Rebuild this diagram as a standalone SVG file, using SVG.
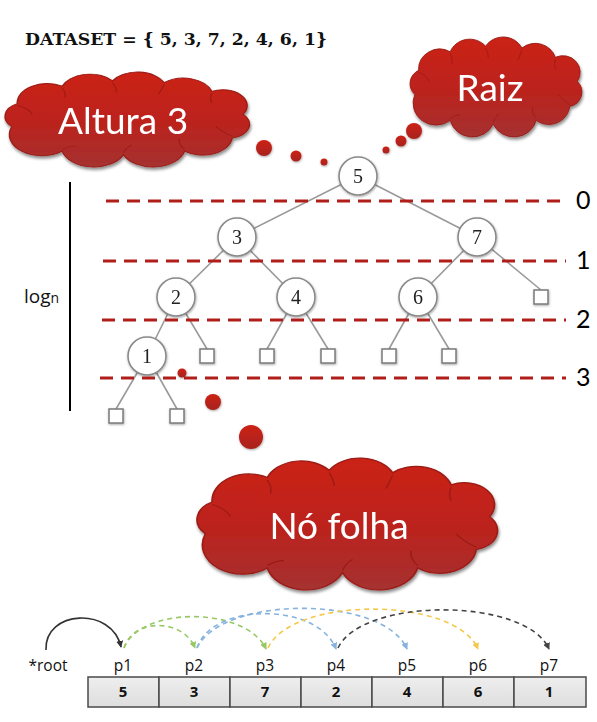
<svg xmlns="http://www.w3.org/2000/svg" xmlns:xlink="http://www.w3.org/1999/xlink" width="597" height="722" viewBox="0 0 597 722">
<style>
.cloud{fill:url(#redGrad);stroke:#9a1c16;stroke-width:1}
.cin{fill:none;stroke:#8e1812;stroke-width:0.9;opacity:0.7}
.ctext{font-family:Lato,"Open Sans",sans-serif;font-size:37px;fill:#ffffff}
.bub{fill:url(#redGrad2)}
.edge{stroke:#9a9a9a;stroke-width:1.6;fill:none}
.node circle{fill:#ffffff;stroke:#8a8a8a;stroke-width:1.6}
.node text{font-family:"Liberation Serif",serif;font-size:20px;fill:#222;text-anchor:middle}
.leaf{fill:#ffffff;stroke:#7a7a7a;stroke-width:1.5}
.lvl{stroke:#b01e1a;stroke-width:3;stroke-dasharray:13 8;fill:none}
.lvlt{font-family:Lato,"Open Sans",sans-serif;font-size:25px;fill:#000}
.lbl{font-family:"Open Sans","Liberation Sans",sans-serif;font-size:15.5px;fill:#111;text-anchor:middle}
.cell{fill:url(#cellGrad);stroke:#4a4a4a;stroke-width:1.5}
.cellt{font-family:"Open Sans","Liberation Sans",sans-serif;font-size:15px;font-weight:bold;fill:#111;text-anchor:middle}
.arc{fill:none;stroke-width:1.6;stroke-dasharray:5 4}
</style>
<defs>
<linearGradient id="redGrad" x1="0" y1="0" x2="0" y2="1">
<stop offset="0" stop-color="#cb2118"/>
<stop offset="0.5" stop-color="#bd221b"/>
<stop offset="1" stop-color="#a53131"/>
</linearGradient>
<linearGradient id="redGrad2" x1="0" y1="0" x2="0" y2="1">
<stop offset="0" stop-color="#cc2016"/>
<stop offset="1" stop-color="#a8241f"/>
</linearGradient>
<linearGradient id="cellGrad" x1="0" y1="0" x2="0" y2="1">
<stop offset="0" stop-color="#eeeeee"/>
<stop offset="1" stop-color="#dedede"/>
</linearGradient>
<filter id="shadow" x="-20%" y="-20%" width="140%" height="150%">
<feDropShadow dx="1" dy="2.5" stdDeviation="1.8" flood-color="#000" flood-opacity="0.45"/>
</filter>
<filter id="glow" x="-30%" y="-30%" width="160%" height="160%">
<feDropShadow dx="0.5" dy="1" stdDeviation="1.2" flood-color="#000" flood-opacity="0.35"/>
</filter>
<path id="cloud" d="M18,62 A16,16 0 0 1 22,36 A22,22 0 0 1 55,16 A22,22 0 0 1 92,10 A22,22 0 0 1 130,12 A22,22 0 0 1 165,22 A18,18 0 0 1 188,48 A16,16 0 0 1 180,75 A22,22 0 0 1 145,90 A24,24 0 0 1 100,94 A24,24 0 0 1 55,90 A24,24 0 0 1 18,62 Z"/>
<g id="cloudInner">
<path d="M22,38 Q30,41 33,48"/>
<path d="M55,18 Q58,24 57,29"/>
<path d="M92,12 Q95,18 95,23"/>
<path d="M130,14 Q128,20 126,25"/>
<path d="M165,24 Q163,30 165,35"/>
<path d="M180,73 Q172,68 168,62"/>
<path d="M145,88 Q140,82 141,76"/>
<path d="M100,92 Q102,86 106,83"/>
<path d="M55,88 Q60,84 65,84"/>
</g>
<marker id="mBlack" viewBox="0 0 8 8" refX="7" refY="4" markerWidth="7" markerHeight="7" markerUnits="userSpaceOnUse" orient="auto"><path d="M0,0 L8,4 L0,8 Z" fill="#333"/></marker>
<marker id="mGreen" viewBox="0 0 8 8" refX="7" refY="4" markerWidth="7" markerHeight="7" markerUnits="userSpaceOnUse" orient="auto"><path d="M0,0 L8,4 L0,8 Z" fill="#98c865"/></marker>
<marker id="mBlue" viewBox="0 0 8 8" refX="7" refY="4" markerWidth="7" markerHeight="7" markerUnits="userSpaceOnUse" orient="auto"><path d="M0,0 L8,4 L0,8 Z" fill="#86b2de"/></marker>
<marker id="mYellow" viewBox="0 0 8 8" refX="7" refY="4" markerWidth="7" markerHeight="7" markerUnits="userSpaceOnUse" orient="auto"><path d="M0,0 L8,4 L0,8 Z" fill="#f4c84a"/></marker>
<marker id="mDark" viewBox="0 0 8 8" refX="7" refY="4" markerWidth="7" markerHeight="7" markerUnits="userSpaceOnUse" orient="auto"><path d="M0,0 L8,4 L0,8 Z" fill="#444"/></marker>
</defs>

<rect width="597" height="722" fill="#ffffff"/>

<g id="title">
<text x="25" y="45" font-family="'DejaVu Serif','Liberation Serif',serif" font-size="16" font-weight="bold" fill="#111" textLength="302" lengthAdjust="spacingAndGlyphs">DATASET = { 5, 3, 7, 2, 4, 6, 1}</text>
</g>

<g id="cloud-altura" filter="url(#shadow)">
<use href="#cloud" class="cloud" transform="translate(-12.7,72) scale(1.361,0.88)"/>
<use href="#cloudInner" class="cin" transform="translate(-12.7,72) scale(1.361,0.88)"/>
<text class="ctext" x="58" y="134">Altura 3</text>
</g>

<g id="cloud-raiz" filter="url(#shadow)">
<use href="#cloud" class="cloud" transform="translate(397.6,37) scale(0.956,0.926)"/>
<use href="#cloudInner" class="cin" transform="translate(397.6,37) scale(0.956,0.926)"/>
<text class="ctext" x="490" y="101" text-anchor="middle">Raiz</text>
</g>

<g id="cloud-folha" filter="url(#shadow)">
<use href="#cloud" class="cloud" transform="translate(175.3,458) scale(1.672,1.222)"/>
<use href="#cloudInner" class="cin" transform="translate(175.3,458) scale(1.672,1.222)"/>
<text class="ctext" x="339" y="539" text-anchor="middle">Nó folha</text>
</g>

<g id="bubbles" filter="url(#glow)">
<circle class="bub" cx="264" cy="148" r="8"/>
<circle class="bub" cx="296" cy="156" r="5.5"/>
<circle class="bub" cx="324" cy="162" r="3.5"/>
<circle class="bub" cx="414" cy="131" r="8"/>
<circle class="bub" cx="401" cy="141" r="5.5"/>
<circle class="bub" cx="386" cy="150" r="3.5"/>
<circle class="bub" cx="182" cy="373" r="4.5"/>
<circle class="bub" cx="213" cy="402" r="8"/>
<circle class="bub" cx="251" cy="437" r="12"/>
</g>

<g id="log-axis">
<line x1="70" y1="182" x2="70" y2="411" stroke="#000" stroke-width="2"/>
<text x="24" y="303" font-family="'Open Sans','Liberation Sans',sans-serif" font-size="19" fill="#111">log<tspan font-size="14">n</tspan></text>
</g>

<g id="connectors">
<line class="edge" x1="358" y1="176" x2="237" y2="237"/>
<line class="edge" x1="358" y1="176" x2="477" y2="237"/>
<line class="edge" x1="237" y1="237" x2="176" y2="297"/>
<line class="edge" x1="237" y1="237" x2="296" y2="297"/>
<line class="edge" x1="477" y1="237" x2="418" y2="297"/>
<line class="edge" x1="477" y1="237" x2="541" y2="290"/>
<line class="edge" x1="176" y1="297" x2="147" y2="356"/>
<line class="edge" x1="176" y1="297" x2="207" y2="349"/>
<line class="edge" x1="296" y1="297" x2="267" y2="349"/>
<line class="edge" x1="296" y1="297" x2="328" y2="349"/>
<line class="edge" x1="418" y1="297" x2="389" y2="349"/>
<line class="edge" x1="418" y1="297" x2="449" y2="349"/>
<line class="edge" x1="147" y1="356" x2="116" y2="409"/>
<line class="edge" x1="147" y1="356" x2="177" y2="409"/>
<path class="arc" style="stroke-dasharray:none" stroke="#333" d="M46,650 C44,610 112,606 121,647" marker-end="url(#mBlack)"/>
<path class="arc" stroke="#98c865" d="M124,648 C133,618 183,618 195,648" marker-end="url(#mGreen)"/>
<path class="arc" stroke="#98c865" d="M124,648 C140,606 246,606 266,649" marker-end="url(#mGreen)"/>
<path class="arc" stroke="#86b2de" d="M197,648 C212,602 318,602 336,649" marker-end="url(#mBlue)"/>
<path class="arc" stroke="#86b2de" d="M197,648 C222,595 384,595 407,649" marker-end="url(#mBlue)"/>
<path class="arc" stroke="#f4c84a" d="M268,648 C292,596 455,596 478,649" marker-end="url(#mYellow)"/>
<path class="arc" stroke="#444" d="M338,648 C362,597 526,597 549,649" marker-end="url(#mDark)"/>
</g>

<g id="nodes" filter="url(#glow)">
<g id="node-5" class="node"><circle cx="358" cy="176" r="19"/><text x="358" y="183">5</text></g>
<g id="node-3" class="node"><circle cx="237" cy="237" r="19"/><text x="237" y="244">3</text></g>
<g id="node-7" class="node"><circle cx="477" cy="237" r="19"/><text x="477" y="244">7</text></g>
<g id="node-2" class="node"><circle cx="176" cy="297" r="19"/><text x="176" y="304">2</text></g>
<g id="node-4" class="node"><circle cx="296" cy="297" r="19"/><text x="296" y="304">4</text></g>
<g id="node-6" class="node"><circle cx="418" cy="297" r="19"/><text x="418" y="304">6</text></g>
<g id="node-1" class="node"><circle cx="147" cy="356" r="19"/><text x="147" y="363">1</text></g>
</g>

<g id="leaves" filter="url(#glow)">
<rect class="leaf" x="534" y="290" width="14" height="14"/>
<rect class="leaf" x="200" y="349" width="14" height="14"/>
<rect class="leaf" x="260" y="349" width="14" height="14"/>
<rect class="leaf" x="321" y="349" width="14" height="14"/>
<rect class="leaf" x="382" y="349" width="14" height="14"/>
<rect class="leaf" x="442" y="349" width="14" height="14"/>
<rect class="leaf" x="109" y="409" width="14" height="14"/>
<rect class="leaf" x="170" y="409" width="14" height="14"/>
</g>

<g id="levels">
<line class="lvl" x1="106" y1="201" x2="566" y2="201"/>
<line class="lvl" x1="103" y1="261" x2="566" y2="261"/>
<line class="lvl" x1="102" y1="320" x2="566" y2="320"/>
<line class="lvl" x1="100" y1="378" x2="566" y2="378"/>
<text class="lvlt" x="576" y="209">0</text>
<text class="lvlt" x="576" y="269">1</text>
<text class="lvlt" x="576" y="328">2</text>
<text class="lvlt" x="576" y="386">3</text>
</g>

<g id="pointers">
<text class="lbl" x="48" y="671">*root</text>
<text class="lbl" x="123" y="671">p1</text>
<text class="lbl" x="194" y="671">p2</text>
<text class="lbl" x="265" y="671">p3</text>
<text class="lbl" x="336" y="671">p4</text>
<text class="lbl" x="407" y="671">p5</text>
<text class="lbl" x="478" y="671">p6</text>
<text class="lbl" x="549" y="671">p7</text>
</g>

<g id="array">
<rect class="cell" x="88" y="677" width="71" height="30"/>
<rect class="cell" x="159" y="677" width="71" height="30"/>
<rect class="cell" x="230" y="677" width="71" height="30"/>
<rect class="cell" x="301" y="677" width="71" height="30"/>
<rect class="cell" x="372" y="677" width="71" height="30"/>
<rect class="cell" x="443" y="677" width="71" height="30"/>
<rect class="cell" x="514" y="677" width="72" height="30"/>
<text class="cellt" x="123" y="697">5</text>
<text class="cellt" x="194" y="697">3</text>
<text class="cellt" x="265" y="697">7</text>
<text class="cellt" x="336" y="697">2</text>
<text class="cellt" x="407" y="697">4</text>
<text class="cellt" x="478" y="697">6</text>
<text class="cellt" x="549" y="697">1</text>
</g>
</svg>
